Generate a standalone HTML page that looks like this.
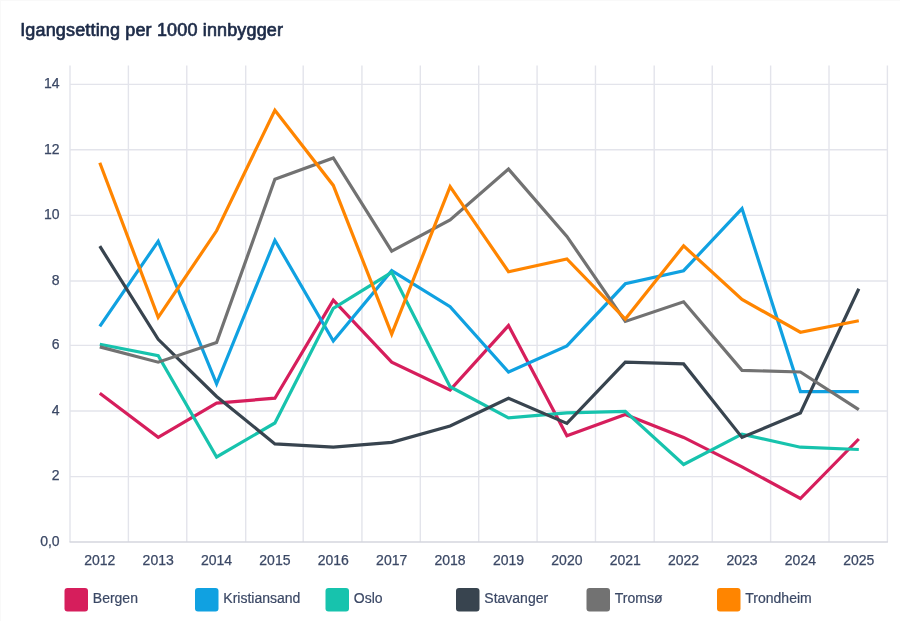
<!DOCTYPE html><html><head><meta charset="utf-8"><style>html,body{margin:0;padding:0;background:#fff;}body{width:900px;height:621px;overflow:hidden;position:relative;font-family:"Liberation Sans",sans-serif;}svg{position:absolute;left:0;top:0;will-change:transform;}svg text{font-family:"Liberation Sans",sans-serif;}</style></head><body>
<svg width="900" height="621" viewBox="0 0 900 621">
<rect x="0" y="0" width="900" height="1" fill="#f9f9f9"/><rect x="0" y="0" width="1" height="621" fill="#f9f9f9"/>
<text x="20.2" y="35.6" font-size="18" fill="#1d2b48" stroke="#1d2b48" stroke-width="0.7" stroke-linejoin="round" textLength="262.8" lengthAdjust="spacing">Igangsetting per 1000 innbygger</text>
<line x1="70.0" y1="476.6" x2="887.4" y2="476.6" stroke="#e3e4eb" stroke-width="1.4"/>
<line x1="70.0" y1="411.0" x2="887.4" y2="411.0" stroke="#e3e4eb" stroke-width="1.4"/>
<line x1="70.0" y1="345.4" x2="887.4" y2="345.4" stroke="#e3e4eb" stroke-width="1.4"/>
<line x1="70.0" y1="281.0" x2="887.4" y2="281.0" stroke="#e3e4eb" stroke-width="1.4"/>
<line x1="70.0" y1="215.4" x2="887.4" y2="215.4" stroke="#e3e4eb" stroke-width="1.4"/>
<line x1="70.0" y1="149.8" x2="887.4" y2="149.8" stroke="#e3e4eb" stroke-width="1.4"/>
<line x1="70.0" y1="84.4" x2="887.4" y2="84.4" stroke="#e3e4eb" stroke-width="1.4"/>
<line x1="70.0" y1="65.5" x2="70.0" y2="542.0" stroke="#e3e4eb" stroke-width="1.4"/>
<line x1="128.3857142857143" y1="65.5" x2="128.3857142857143" y2="542.0" stroke="#e3e4eb" stroke-width="1.4"/>
<line x1="186.77142857142857" y1="65.5" x2="186.77142857142857" y2="542.0" stroke="#e3e4eb" stroke-width="1.4"/>
<line x1="245.7" y1="65.5" x2="245.7" y2="542.0" stroke="#e3e4eb" stroke-width="1.4"/>
<line x1="303.2" y1="65.5" x2="303.2" y2="542.0" stroke="#e3e4eb" stroke-width="1.4"/>
<line x1="361.92857142857144" y1="65.5" x2="361.92857142857144" y2="542.0" stroke="#e3e4eb" stroke-width="1.4"/>
<line x1="420.3142857142857" y1="65.5" x2="420.3142857142857" y2="542.0" stroke="#e3e4eb" stroke-width="1.4"/>
<line x1="478.7" y1="65.5" x2="478.7" y2="542.0" stroke="#e3e4eb" stroke-width="1.4"/>
<line x1="537.0857142857143" y1="65.5" x2="537.0857142857143" y2="542.0" stroke="#e3e4eb" stroke-width="1.4"/>
<line x1="595.4714285714285" y1="65.5" x2="595.4714285714285" y2="542.0" stroke="#e3e4eb" stroke-width="1.4"/>
<line x1="654.2" y1="65.5" x2="654.2" y2="542.0" stroke="#e3e4eb" stroke-width="1.4"/>
<line x1="712.2428571428571" y1="65.5" x2="712.2428571428571" y2="542.0" stroke="#e3e4eb" stroke-width="1.4"/>
<line x1="770.6285714285714" y1="65.5" x2="770.6285714285714" y2="542.0" stroke="#e3e4eb" stroke-width="1.4"/>
<line x1="829.0142857142857" y1="65.5" x2="829.0142857142857" y2="542.0" stroke="#e3e4eb" stroke-width="1.4"/>
<line x1="887.4" y1="65.5" x2="887.4" y2="542.0" stroke="#e3e4eb" stroke-width="1.4"/>
<line x1="69.5" y1="542.0" x2="887.9" y2="542.0" stroke="#d4d6de" stroke-width="1.3"/>
<text x="59.6" y="545.8" font-size="14" fill="#3b4865" stroke="#3b4865" stroke-width="0.25" text-anchor="end">0,0</text>
<text x="59.6" y="480.4" font-size="14" fill="#3b4865" stroke="#3b4865" stroke-width="0.25" text-anchor="end">2</text>
<text x="59.6" y="414.8" font-size="14" fill="#3b4865" stroke="#3b4865" stroke-width="0.25" text-anchor="end">4</text>
<text x="59.6" y="349.2" font-size="14" fill="#3b4865" stroke="#3b4865" stroke-width="0.25" text-anchor="end">6</text>
<text x="59.6" y="284.8" font-size="14" fill="#3b4865" stroke="#3b4865" stroke-width="0.25" text-anchor="end">8</text>
<text x="59.6" y="219.2" font-size="14" fill="#3b4865" stroke="#3b4865" stroke-width="0.25" text-anchor="end">10</text>
<text x="59.6" y="153.6" font-size="14" fill="#3b4865" stroke="#3b4865" stroke-width="0.25" text-anchor="end">12</text>
<text x="59.6" y="88.2" font-size="14" fill="#3b4865" stroke="#3b4865" stroke-width="0.25" text-anchor="end">14</text>
<text x="99.8" y="565" font-size="14" fill="#3b4865" stroke="#3b4865" stroke-width="0.25" text-anchor="middle">2012</text>
<text x="158.2" y="565" font-size="14" fill="#3b4865" stroke="#3b4865" stroke-width="0.25" text-anchor="middle">2013</text>
<text x="216.6" y="565" font-size="14" fill="#3b4865" stroke="#3b4865" stroke-width="0.25" text-anchor="middle">2014</text>
<text x="274.9" y="565" font-size="14" fill="#3b4865" stroke="#3b4865" stroke-width="0.25" text-anchor="middle">2015</text>
<text x="333.3" y="565" font-size="14" fill="#3b4865" stroke="#3b4865" stroke-width="0.25" text-anchor="middle">2016</text>
<text x="391.7" y="565" font-size="14" fill="#3b4865" stroke="#3b4865" stroke-width="0.25" text-anchor="middle">2017</text>
<text x="450.1" y="565" font-size="14" fill="#3b4865" stroke="#3b4865" stroke-width="0.25" text-anchor="middle">2018</text>
<text x="508.5" y="565" font-size="14" fill="#3b4865" stroke="#3b4865" stroke-width="0.25" text-anchor="middle">2019</text>
<text x="566.9" y="565" font-size="14" fill="#3b4865" stroke="#3b4865" stroke-width="0.25" text-anchor="middle">2020</text>
<text x="625.3" y="565" font-size="14" fill="#3b4865" stroke="#3b4865" stroke-width="0.25" text-anchor="middle">2021</text>
<text x="683.6" y="565" font-size="14" fill="#3b4865" stroke="#3b4865" stroke-width="0.25" text-anchor="middle">2022</text>
<text x="742.0" y="565" font-size="14" fill="#3b4865" stroke="#3b4865" stroke-width="0.25" text-anchor="middle">2023</text>
<text x="800.4" y="565" font-size="14" fill="#3b4865" stroke="#3b4865" stroke-width="0.25" text-anchor="middle">2024</text>
<text x="858.8" y="565" font-size="14" fill="#3b4865" stroke="#3b4865" stroke-width="0.25" text-anchor="middle">2025</text>
<polyline points="99.8,393.3 158.2,437.4 216.6,403.1 274.9,398.2 333.3,300.1 391.7,362.2 450.1,390.0 508.5,325.6 566.9,435.8 625.3,414.5 683.6,437.4 742.0,466.8 800.4,498.5 858.8,439.0" fill="none" stroke="#d61e5c" stroke-width="3.2" stroke-linejoin="miter" stroke-linecap="butt"/>
<polyline points="99.8,326.3 158.2,241.3 216.6,383.8 274.9,240.3 333.3,341.0 391.7,270.7 450.1,306.7 508.5,372.0 566.9,345.9 625.3,283.8 683.6,270.7 742.0,208.6 800.4,391.6 858.8,391.6" fill="none" stroke="#10a1e1" stroke-width="3.2" stroke-linejoin="miter" stroke-linecap="butt"/>
<polyline points="99.8,344.3 158.2,355.7 216.6,457.0 274.9,423.0 333.3,308.3 391.7,272.3 450.1,386.7 508.5,417.8 566.9,412.9 625.3,411.3 683.6,464.5 742.0,434.1 800.4,447.2 858.8,449.5" fill="none" stroke="#17c3ad" stroke-width="3.2" stroke-linejoin="miter" stroke-linecap="butt"/>
<polyline points="99.8,246.2 158.2,339.3 216.6,396.5 274.9,443.9 333.3,447.2 391.7,442.3 450.1,426.0 508.5,398.2 566.9,423.4 625.3,362.2 683.6,363.9 742.0,437.4 800.4,412.9 858.8,288.7" fill="none" stroke="#38444f" stroke-width="3.2" stroke-linejoin="miter" stroke-linecap="butt"/>
<polyline points="99.8,346.9 158.2,362.2 216.6,342.6 274.9,179.2 333.3,157.9 391.7,251.1 450.1,220.0 508.5,169.1 566.9,236.4 625.3,321.4 683.6,301.8 742.0,370.4 800.4,372.0 858.8,409.6" fill="none" stroke="#727272" stroke-width="3.2" stroke-linejoin="miter" stroke-linecap="butt"/>
<polyline points="99.8,162.8 158.2,317.4 216.6,230.8 274.9,110.2 333.3,185.4 391.7,334.1 450.1,186.7 508.5,271.7 566.9,258.9 625.3,319.1 683.6,245.9 742.0,299.5 800.4,332.2 858.8,320.7" fill="none" stroke="#ff8500" stroke-width="3.2" stroke-linejoin="miter" stroke-linecap="butt"/>
<rect x="64.5" y="588" width="23.5" height="23.5" rx="3" fill="#d61e5c"/>
<text x="92.8" y="602.9" font-size="14" fill="#3b4865" stroke="#3b4865" stroke-width="0.2">Bergen</text>
<rect x="195" y="588" width="23.5" height="23.5" rx="3" fill="#10a1e1"/>
<text x="223.3" y="602.9" font-size="14" fill="#3b4865" stroke="#3b4865" stroke-width="0.2">Kristiansand</text>
<rect x="325.5" y="588" width="23.5" height="23.5" rx="3" fill="#17c3ad"/>
<text x="353.8" y="602.9" font-size="14" fill="#3b4865" stroke="#3b4865" stroke-width="0.2">Oslo</text>
<rect x="456" y="588" width="23.5" height="23.5" rx="3" fill="#38444f"/>
<text x="484.3" y="602.9" font-size="14" fill="#3b4865" stroke="#3b4865" stroke-width="0.2">Stavanger</text>
<rect x="586.5" y="588" width="23.5" height="23.5" rx="3" fill="#727272"/>
<text x="614.8" y="602.9" font-size="14" fill="#3b4865" stroke="#3b4865" stroke-width="0.2">Tromsø</text>
<rect x="717" y="588" width="23.5" height="23.5" rx="3" fill="#ff8500"/>
<text x="745.3" y="602.9" font-size="14" fill="#3b4865" stroke="#3b4865" stroke-width="0.2">Trondheim</text>
</svg></body></html>
